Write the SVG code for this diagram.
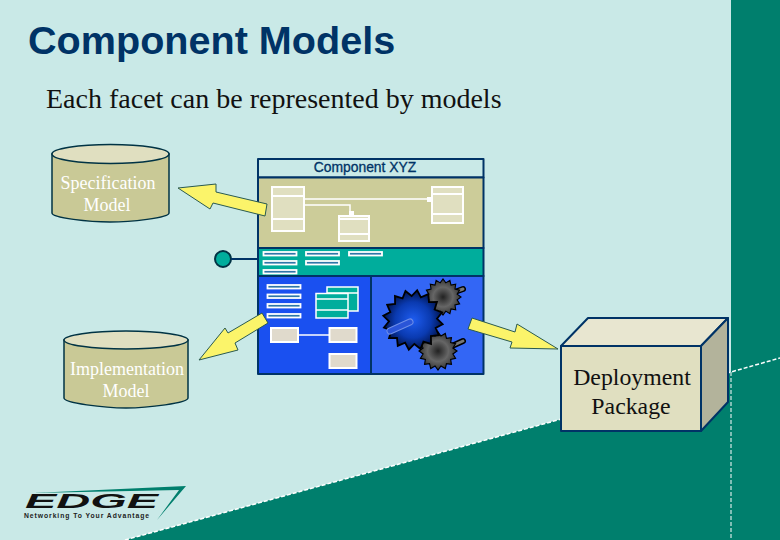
<svg xmlns="http://www.w3.org/2000/svg" xmlns:xlink="http://www.w3.org/1999/xlink" width="780" height="540" viewBox="0 0 780 540">
<style>
.ln{stroke:#003366;stroke-width:2;stroke-linejoin:round}
.cyl{fill:#C9C996;stroke:#003344;stroke-width:1.5}
.cyltop{fill:#E0DFC0;stroke:#003344;stroke-width:1.5}
.lab{font-family:"Liberation Serif",serif;font-size:18px;fill:#fff;text-anchor:middle}
.arrow{fill:#FBF46A;stroke:#2A5A50;stroke-width:1}
.uml{fill:#E0DFC0;stroke:#fff;stroke-width:2}
.wl{stroke:#fff;stroke-width:1.5;fill:none}
.slot{fill:#2F77A8;stroke:#fff;stroke-width:1.8}
.win{fill:#00AD9C;stroke:#fff;stroke-width:1.5}
.pad{fill:#E0DACC;stroke:#fff;stroke-width:2}
.gear{stroke:#000;stroke-width:6;stroke-linejoin:miter}
</style>
<defs>
<radialGradient id="gb"><stop offset="0" stop-color="#1E5CF0"/><stop offset="0.6" stop-color="#0A3AB0"/><stop offset="1" stop-color="#00124A"/></radialGradient>
<radialGradient id="gg"><stop offset="0" stop-color="#222"/><stop offset="0.55" stop-color="#666"/><stop offset="1" stop-color="#333"/></radialGradient>
<polygon id="star" points="100,0 78.5,15.6 92.4,38.3 66.5,44.5 70.7,70.7 44.5,66.5 38.3,92.4 15.6,78.5 0,100 -15.6,78.5 -38.3,92.4 -44.5,66.5 -70.7,70.7 -66.5,44.5 -92.4,38.3 -78.5,15.6 -100,0 -78.5,-15.6 -92.4,-38.3 -66.5,-44.5 -70.7,-70.7 -44.5,-66.5 -38.3,-92.4 -15.6,-78.5 0,-100 15.6,-78.5 38.3,-92.4 44.5,-66.5 70.7,-70.7 66.5,-44.5 92.4,-38.3 78.5,-15.6"/>
</defs>
<g id="background">
<rect width="780" height="540" fill="#C9E9E7"/>
<polygon points="125,540 731,372 731,0 780,0 780,540" fill="#007F6D"/>
<path d="M125,540L731,372L780,358" fill="none" stroke="#fff" stroke-width="1.5" stroke-dasharray="4 2"/>
<path d="M731,372V540" fill="none" stroke="#fff" stroke-width="1" stroke-dasharray="4 2"/>
</g>
<g id="title">
<text x="28" y="54" font-family="Liberation Sans,sans-serif" font-weight="bold" font-size="39.600" fill="#003366">Component Models</text>
<text x="46" y="108" font-family="Liberation Serif,serif" font-size="28" fill="#111">Each facet can be represented by models</text>
</g>
<g id="spec-model">
<path class="cyl" d="M52,154V213C52,218 90,222 110,222S169,218 169,213V154Z"/>
<ellipse class="cyltop" cx="110.500" cy="154" rx="58.500" ry="9.500"/>
<text class="lab" x="108" y="189">Specification</text>
<text class="lab" x="107" y="211">Model</text>
</g>
<g id="impl-model">
<path class="cyl" d="M64,340V398C64,403 104,408 126,408S188,403 188,398V340Z"/>
<ellipse class="cyltop" cx="126" cy="340" rx="62" ry="9"/>
<text class="lab" x="127" y="375">Implementation</text>
<text class="lab" x="126" y="397">Model</text>
</g>
<g id="interface-port">
<circle cx="223" cy="259" r="8" fill="#00AD9C" stroke="#003344" stroke-width="2"/>
</g>
<g id="component-xyz">
<rect x="258" y="159" width="225.500" height="18.500" fill="#C9E9E7" class="ln"/>
<rect x="258" y="177.500" width="225.500" height="70.500" fill="#CCCC99" class="ln"/>
<rect x="258" y="248" width="225.500" height="28" fill="#00AD9C" class="ln"/>
<rect x="258" y="276" width="113" height="98" fill="#1A50F0" class="ln"/>
<rect x="371" y="276" width="112.500" height="98" fill="#3366F5" class="ln"/>
<text x="365" y="172" font-family="Liberation Sans,sans-serif" font-size="13.900" stroke="#003366" stroke-width=".3" fill="#003366" text-anchor="middle">Component XYZ</text>
<g id="class-diagram">
<path class="uml" d="M272,187H304V231H272ZM272,196H304M272,219H304"/>
<path class="uml" d="M339,216H369V241H339ZM339,219H369M339,234H369"/>
<path class="uml" d="M432,187H463V223H432ZM432,194H463M432,214H463"/>
<path d="M304,199H432M304,205H350V213" fill="none" stroke="#fff" stroke-width="1.500"/>
<rect x="427" y="197" width="5" height="5" fill="#fff"/>
<rect x="349" y="211" width="5" height="5" fill="#fff"/>
</g>
<g id="interface-slots">
<rect class="slot" x="263.500" y="252" width="33" height="3.500"/>
<rect class="slot" x="263.500" y="261" width="33" height="3.500"/>
<rect class="slot" x="263.500" y="270" width="33" height="3.500"/>
<rect class="slot" x="306" y="252" width="33" height="3.500"/>
<rect class="slot" x="306" y="261" width="33" height="3.500"/>
<rect class="slot" x="349" y="252" width="33" height="3.500"/>
</g>
<g id="implementation">
<rect class="slot" x="267.500" y="285" width="33" height="3.500"/>
<rect class="slot" x="267.500" y="294.500" width="33" height="3.500"/>
<rect class="slot" x="267.500" y="304" width="33" height="3.500"/>
<rect class="slot" x="267.500" y="314" width="33" height="3.500"/>
<path class="win" d="M327,287H358V311H327ZM327,293H358"/>
<path class="win" d="M316,293.500H348V318H316ZM316,299H348M316,310H348"/>
<path d="M298,335H329" class="wl"/>
<rect class="pad" x="271" y="328" width="27" height="14"/>
<rect class="pad" x="329.500" y="328" width="27" height="14"/>
<rect class="pad" x="329.500" y="354" width="27" height="14"/>
</g>
<g id="gears">
<path d="M452,293L463,289M452,346L463,341" stroke="#000" stroke-width="6" stroke-linecap="round"/>
<path d="M452,293L463,289M452,346L463,341" stroke="#777" stroke-width="3" stroke-linecap="round"/>
<use xlink:href="#star" href="#star" class="gear" fill="url(#gg)" transform="translate(443,297) scale(.18)"/>
<use xlink:href="#star" href="#star" class="gear" fill="url(#gg)" transform="translate(438,351) scale(.19)"/>
<use xlink:href="#star" href="#star" class="gear" fill="url(#gb)" transform="translate(413,320) rotate(8) scale(.3)"/>
<path d="M390,331L410,322" stroke="#6F8FE8" stroke-width="7" stroke-linecap="round"/>
<path d="M390,331L410,322" stroke="#2A55D8" stroke-width="5" stroke-linecap="round"/>
</g>
</g>
<g id="deployment-package">
<polygon points="561,346 588,318 728,318 701,346" fill="#E8E6D0" class="ln"/>
<polygon points="701,346 728,318 728,402 701,431" fill="#B3B39B" class="ln"/>
<rect x="561" y="346" width="140" height="85" fill="#E0DFC0" class="ln"/>
<text x="632" y="385" font-family="Liberation Serif,serif" font-size="23.800" fill="#111" text-anchor="middle">Deployment</text>
<text x="631" y="414" font-family="Liberation Serif,serif" font-size="23.800" fill="#111" text-anchor="middle">Package</text>
</g>
<g id="connectors">
<path d="M231,259H258" class="ln"/>
<polygon class="arrow" points="178,188 216,184 216,192 267,204 265,216 213,203 210,209"/>
<polygon class="arrow" points="199,360 225,328 228,333 262,313 268,323 235,343 238,350"/>
<polygon class="arrow" points="558,349 517,324 515,332 472,318 468,329 512,342 510,348"/>
</g>
<g id="logo">
<polygon points="33,493 186,486 157,520 179,490" fill="#007F6D"/>
<text x="25" y="507.500" font-family="Liberation Sans,sans-serif" font-weight="bold" font-style="italic" font-size="21" fill="#111" textLength="133" lengthAdjust="spacingAndGlyphs">EDGE</text>
<text x="24" y="518" font-family="Liberation Sans,sans-serif" font-weight="bold" font-size="6.800" fill="#222" textLength="125" lengthAdjust="spacing">Networking To Your Advantage</text>
</g>
</svg>
